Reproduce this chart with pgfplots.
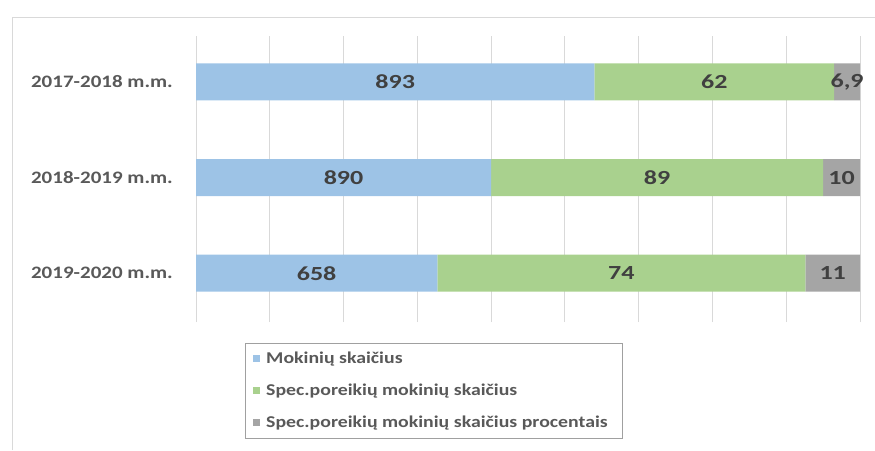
\documentclass[border=0pt]{standalone}
\usepackage{pgfplots}
\pgfplotsset{compat=1.18}
\usepackage{fontspec}
\setmainfont{Carlito}[FakeStretch=1.2]
\newfontfamily\lblfont{Carlito}[FakeStretch=1.3]
\definecolor{cblue}{RGB}{157,195,230}
\definecolor{cgreen}{RGB}{169,209,142}
\definecolor{cgray}{RGB}{165,165,165}
\definecolor{ctext}{RGB}{89,89,89}
\definecolor{clab}{RGB}{64,64,64}
\definecolor{cgrid}{RGB}{217,217,217}
\definecolor{cleg}{RGB}{160,160,160}
\begin{document}
\begin{tikzpicture}
\path[use as bounding box] (0pt,0pt) rectangle (875pt,450pt);
\draw[cgrid, line width=1pt] (12pt,0pt) -- (12pt,432pt) -- (875pt,432pt);
\begin{axis}[
  at={(196pt,128pt)}, anchor=south west,
  scale only axis, width=664pt, height=286pt,
  xbar stacked, bar width=37pt,
  xmin=0, xmax=9, ymin=-0.51, ymax=2.48,
  xtick={0,...,9}, xticklabels={},
  xmajorgrids, grid style={cgrid, line width=0.8pt},
  ytick={0,1,2},
  yticklabels={2019-2020 m.m., 2018-2019 m.m., 2017-2018 m.m.},
  yticklabel style={font=\bfseries\fontsize{17.5}{20}\selectfont, text=ctext, inner sep=0pt, xshift=-23pt},
  tick style={draw=none}, major tick length=0pt,
  axis line style={draw=none},
  legend cell align=left,
  legend style={at={(0.0738,-0.0734)}, anchor=north west, draw=cleg,
    font=\bfseries\fontsize{16.5}{19}\selectfont, text=ctext, row sep=15pt,
    inner xsep=8pt, inner ysep=7pt,
    nodes={inner xsep=6pt}},
]
\addplot[fill=cblue, draw=none, legend image code/.code={\fill[cblue] (0pt,-3.5pt) rectangle (7pt,3.5pt);}]
  coordinates {(3.27,0) (4.00,1) (5.40,2)};
\addlegendentry{Mokinių skaičius}
\addplot[fill=cgreen, draw=none, legend image code/.code={\fill[cgreen] (0pt,-3.5pt) rectangle (7pt,3.5pt);}]
  coordinates {(4.99,0) (4.50,1) (3.25,2)};
\addlegendentry{Spec.poreikių mokinių skaičius}
\addplot[fill=cgray, draw=none, legend image code/.code={\fill[cgray] (0pt,-3.5pt) rectangle (7pt,3.5pt);}]
  coordinates {(0.74,0) (0.50,1) (0.35,2)};
\addlegendentry{Spec.poreikių mokinių skaičius procentais}
\end{axis}
\begin{axis}[
  at={(196pt,128pt)}, anchor=south west,
  scale only axis, width=664pt, height=286pt,
  xmin=0, xmax=9, ymin=-0.51, ymax=2.48,
  hide axis, clip=false,
  nodes near coords, point meta=explicit symbolic,
  every node near coord/.append style={anchor=center, inner sep=0pt,
    font=\lblfont\bfseries\fontsize{20}{22}\selectfont, text=clab},
]
\addplot[draw=none, mark=none] table[meta=lab] {
x y lab
2.700 2 893
7.025 2 62
8.825 2 6,9
2.000 1 890
6.250 1 89
8.750 1 10
1.635 0 658
5.765 0 74
8.630 0 11
};
\end{axis}
\end{tikzpicture}
\end{document}
